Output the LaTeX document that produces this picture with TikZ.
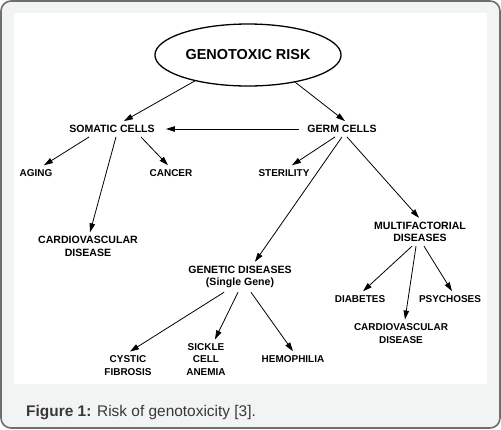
\documentclass[tikz,border=0pt]{standalone}
\usepackage{fontspec}
\setmainfont{Liberation Sans}
\usepackage{tikz}
\usetikzlibrary{shapes.geometric, arrows.meta, positioning}
\definecolor{framegray}{HTML}{6E6E6E}
\definecolor{panelgray}{HTML}{F2F3F3}
\definecolor{captiongray}{HTML}{383838}
\tikzset{
  frame/.style={
    draw=framegray, line width=1.6bp,
    rounded corners=10bp, fill=panelgray,
  },
  riskbox/.style={
    ellipse, draw, line width=1.3bp,
    minimum width=180bp, minimum height=62bp,
    font=\fontsize{14.5}{17}\selectfont\bfseries,
  },
  term/.style={
    align=center, inner sep=4bp,
    font=\fontsize{10}{12.5}\selectfont\bfseries,
  },
  bigterm/.style={
    term, font=\fontsize{10.6}{12.5}\selectfont\bfseries,
  },
  arrow/.style={-{Triangle[length=9bp, width=5.5bp]}, line width=0.8bp},
  caption/.style={anchor=base west, inner sep=0pt, text=captiongray,
    font=\fontsize{15.5}{18}\selectfont},
}
\begin{document}
\begin{tikzpicture}[x=1bp, y=-1bp]

  \useasboundingbox (0,0) rectangle (501,429);
  \draw[frame] (1,1) rectangle (500,428);
  \fill[white] (14,13) rectangle (487,384);

  \node[riskbox] (risk) at (248,55) {GENOTOXIC RISK};

  \node[bigterm] (somatic) at (112,129) {SOMATIC CELLS};
  \node[bigterm] (germ) at (342,129) {GERM CELLS};

  \node[term] (aging) at (36,173) {AGING};
  \node[term] (cancer) at (171,173) {CANCER};
  \node[term] (sterility) at (284,173) {STERILITY};
  \node[bigterm] (cardioL) at (88,246.5) {CARDIOVASCULAR\\DISEASE};

  \node[bigterm] (multi) at (420,232) {MULTIFACTORIAL\\DISEASES};
  \node[bigterm] (genetic) at (240,277) {GENETIC DISEASES\\(Single Gene)};

  \node[term] (diabetes) at (360,299) {DIABETES};
  \node[term] (psychoses) at (450,299) {PSYCHOSES};
  \node[term] (cardioR) at (401,333.5) {CARDIOVASCULAR\\DISEASE};

  \node[term] (cystic) at (128,365.5) {CYSTIC\\FIBROSIS};
  \node[term] (sickle) at (206,359.5) {SICKLE\\CELL\\ANEMIA};
  \node[term] (hemophilia) at (293,359) {HEMOPHILIA};

  \draw[arrow] (risk.206) -- ([xshift=12]somatic.north);
  \draw[arrow] (risk.330) -- ([xshift=3]germ.north);
  \draw[arrow] ([xshift=-4]germ.west) -- ([xshift=7]somatic.east);

  \draw[arrow] ([xshift=-23]somatic.south) -- ([xshift=8]aging.north);
  \draw[arrow] ([xshift=4]somatic.south) -- ([xshift=2]cardioL.north);
  \draw[arrow] ([xshift=29]somatic.south) -- ([xshift=-3]cancer.north);

  \draw[arrow] ([xshift=-7]germ.south) -- ([xshift=8]sterility.north);
  \draw[arrow] (germ.south) -- ([xshift=15]genetic.north);
  \draw[arrow] ([xshift=5]germ.south) -- ([xshift=-1]multi.north);

  \draw[arrow] ([xshift=-8]multi.south) -- ([xshift=3]diabetes.north);
  \draw[arrow] ([xshift=-4]multi.south) -- ([xshift=4]cardioR.north);
  \draw[arrow] ([xshift=4]multi.south) -- ([xshift=2]psychoses.north);

  \draw[arrow] ([xshift=-16]genetic.south) -- ([xshift=2]cystic.north);
  \draw[arrow] ([xshift=-2]genetic.south) -- ([xshift=9]sickle.north);
  \draw[arrow] ([xshift=11]genetic.south) -- (hemophilia.north);

  \node[caption] (cap) at (26,416.5) {\textbf{Figure 1:} Risk of genotoxicity [3].};

\end{tikzpicture}
\end{document}
